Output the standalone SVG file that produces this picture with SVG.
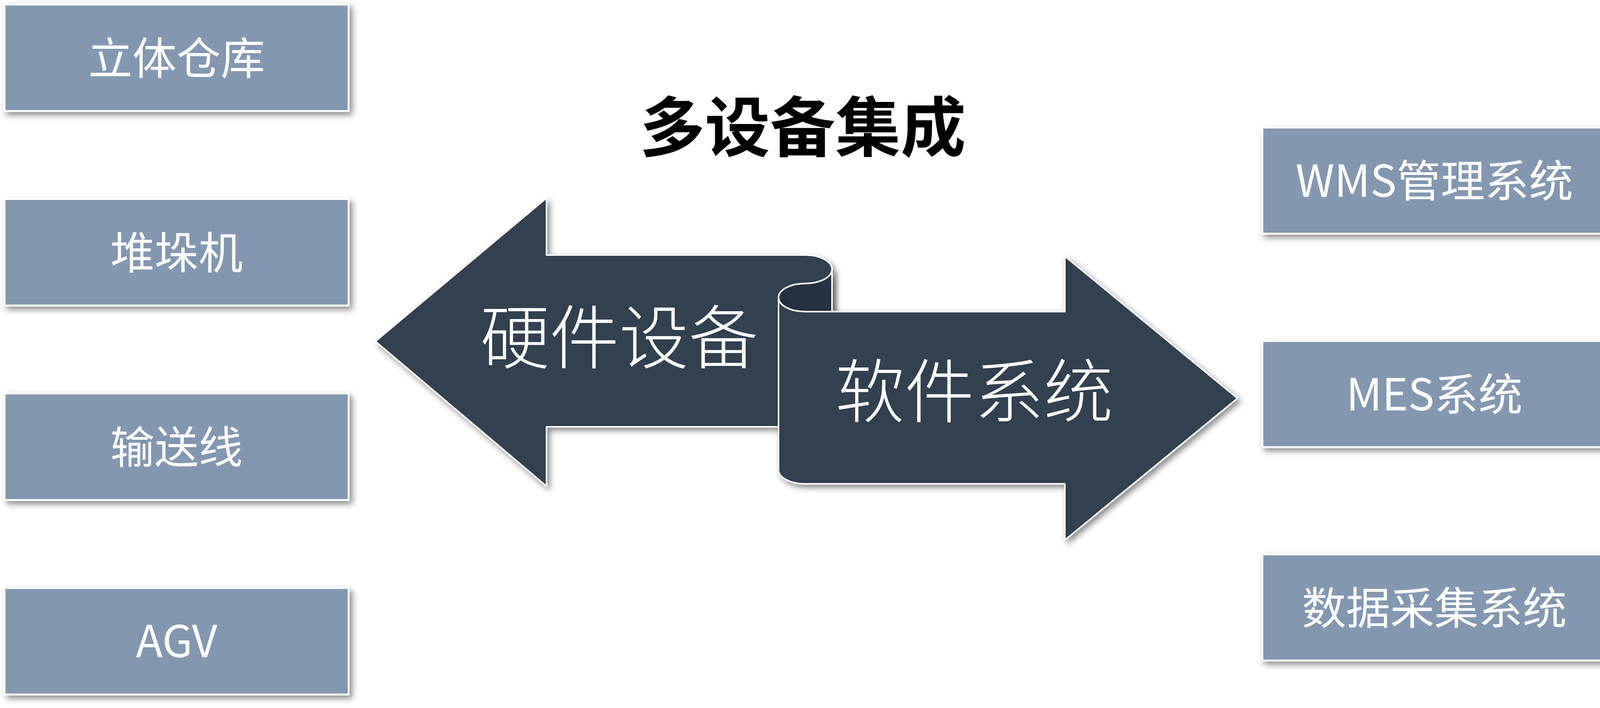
<svg xmlns="http://www.w3.org/2000/svg" width="4144" height="1813" viewBox="0 0 4144 1813">
<defs>
<filter id="sh" x="-10%" y="-10%" width="125%" height="135%">
<feDropShadow dx="7" dy="8" stdDeviation="8" flood-color="#000" flood-opacity="0.45"/>
</filter>
<style>
.box{fill:#8497B0;stroke:#FFFFFF;stroke-width:5;filter:url(#sh)}
.lbl{font-family:"Noto Sans CJK SC","Noto Sans",sans-serif;font-size:113px;fill:#FFFFFF;text-anchor:middle}
.arr{fill:#333F50;stroke:#FFFFFF;stroke-width:4;stroke-linejoin:round}
.curl{fill:#283142;stroke:#FFFFFF;stroke-width:4;stroke-linejoin:round}
.big{font-family:"Noto Sans CJK SC","Noto Sans",sans-serif;font-size:178px;font-weight:300;fill:#FFFFFF;text-anchor:middle}
.title{font-family:"Noto Sans CJK SC","Noto Sans",sans-serif;font-size:167px;font-weight:700;fill:#000000;text-anchor:middle}
</style>
</defs>
<rect width="4144" height="1813" fill="#FFFFFF"/>
<g id="title"><text class="title" x="2055" y="387">多设备集成</text></g>
<g id="node-liti"><rect class="box" x="11.5" y="11.5" width="881" height="273"/><text class="lbl" x="452" y="190">立体仓库</text></g>
<g id="node-duiduoji"><rect class="box" x="11.5" y="509.5" width="881" height="273"/><text class="lbl" x="452" y="688">堆垛机</text></g>
<g id="node-shusongxian"><rect class="box" x="11.5" y="1007.5" width="881" height="273"/><text class="lbl" x="452" y="1186">输送线</text></g>
<g id="node-agv"><rect class="box" x="11.5" y="1505.5" width="881" height="273"/><text class="lbl" x="452" y="1683">AGV</text></g>
<g id="node-wms"><rect class="box" x="3231.5" y="326.5" width="882" height="272"/><text class="lbl" x="3672" y="504">WMS管理系统</text></g>
<g id="node-mes"><rect class="box" x="3231.5" y="873" width="882" height="272"/><text class="lbl" x="3672" y="1051">MES系统</text></g>
<g id="node-data"><rect class="box" x="3231.5" y="1419.5" width="882" height="272"/><text class="lbl" x="3672" y="1598">数据采集系统</text></g>
<g id="node-hardware">
<path class="arr" filter="url(#sh)" d="M961,874 L1399,507 L1399,653 L2061,653 A69,36.5 0 0 1 2130,689.5 L2130,1093 L1399,1093 L1399,1245 Z"/>
<text class="big" x="1585" y="930">硬件设备</text>
</g>
<g id="node-software">
<path class="curl" filter="url(#sh)" d="M2130,689.5 A69,36.5 0 0 1 2061,726 A68,36 0 0 0 1993,762 A68,36 0 0 0 2061,798 L2130,798 Z"/>
<path class="arr" filter="url(#sh)" d="M2061,798 L2726,798 L2726,656 L3168,1020 L2726,1383 L2726,1239 L2061,1239 A68,36 0 0 1 1993,1203 L1993,762 A68,36 0 0 0 2061,798 Z"/>
<text class="big" x="2494" y="1068">软件系统</text>
</g>
<g id="connectors"/>
</svg>
